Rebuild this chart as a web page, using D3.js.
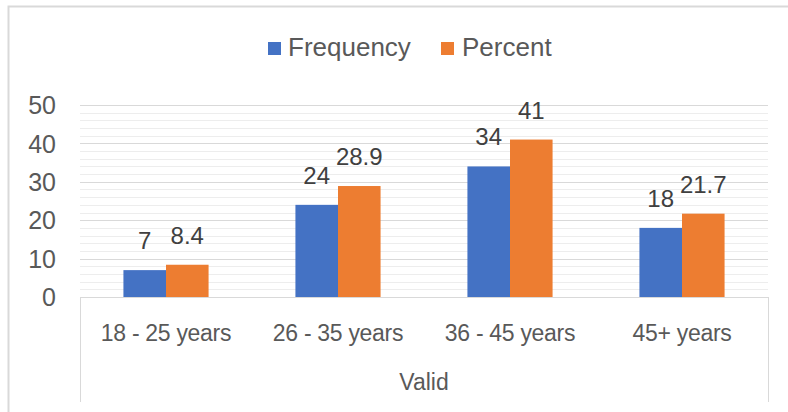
<!DOCTYPE html>
<html>
<head>
<meta charset="utf-8">
<script src="https://cdn.jsdelivr.net/npm/d3@7"></script>
<style>
  html, body { margin: 0; padding: 0; background: #ffffff; }
  svg { display: block; }
</style>
</head>
<body>
<svg id="chart" width="788" height="412"></svg>
<script>
// Age groups and their counts / shares
const categories = ["18 - 25 years", "26 - 35 years", "36 - 45 years", "45+ years"];
const seriesNames = ["Frequency", "Percent"];
const frequency = [7, 24, 34, 18];
const percent = [8.4, 28.9, 41, 21.7];
const yTicks = [0, 10, 20, 30, 40, 50];
const groupLabel = "Valid";

const colors = { Frequency: "#4472C4", Percent: "#ED7D31" };
const seriesValues = { Frequency: frequency, Percent: percent };

const svg = d3.select("#chart");
const W = 788, H = 412;
const plot = { left: 80, right: 768, top: 105, bottom: 297 };
const font = "'Liberation Sans', Arial, sans-serif";

// chart frame
svg.append("rect")
  .attr("x", 8.5).attr("y", 6.5)
  .attr("width", W + 20).attr("height", H + 20)
  .attr("fill", "#ffffff")
  .attr("stroke", "#d9d9d9").attr("stroke-width", 2);

const x0 = d3.scaleBand().domain(categories).range([plot.left, plot.right]).padding(0);
const x1 = d3.scaleBand().domain(seriesNames).range([0, x0.bandwidth()])
  .paddingInner(0).paddingOuter(1.02);
const y = d3.scaleLinear().domain([0, 50]).range([plot.bottom, plot.top]);

// minor gridlines every 2 units
const minor = d3.range(2, 50, 2).filter(v => v % 10 !== 0);
svg.append("g").selectAll("line").data(minor).join("line")
  .attr("x1", plot.left).attr("x2", plot.right)
  .attr("y1", d => Math.round(y(d)) + 0.5).attr("y2", d => Math.round(y(d)) + 0.5)
  .attr("stroke", "#ededed").attr("stroke-width", 1);

// major gridlines
svg.append("g").selectAll("line").data(yTicks.filter(v => v > 0)).join("line")
  .attr("x1", plot.left).attr("x2", plot.right)
  .attr("y1", d => Math.round(y(d)) + 0.5).attr("y2", d => Math.round(y(d)) + 0.5)
  .attr("stroke", "#d9d9d9").attr("stroke-width", 1);

// y axis labels
const yAxis = d3.axisLeft(y).tickValues(yTicks).tickSize(0).tickPadding(0);
const yg = svg.append("g").attr("transform", `translate(56,0)`).call(yAxis);
yg.select(".domain").remove();
yg.selectAll("text")
  .attr("font-family", font)
  .attr("font-size", 25).attr("fill", "#595959").attr("dy", "0.35em");

// bars
const groups = svg.append("g").selectAll("g").data(categories).join("g")
  .attr("transform", d => `translate(${x0(d)},0)`);

groups.selectAll("rect")
  .data((c, i) => seriesNames.map(s => ({ s, v: seriesValues[s][i] })))
  .join("rect")
  .attr("x", d => x1(d.s))
  .attr("width", x1.bandwidth())
  .attr("y", d => y(d.v))
  .attr("height", d => y(0) - y(d.v))
  .attr("fill", d => colors[d.s]);

// value labels
groups.selectAll("text")
  .data((c, i) => seriesNames.map(s => ({ s, v: seriesValues[s][i] })))
  .join("text")
  .attr("x", d => x1(d.s) + x1.bandwidth() / 2)
  .attr("y", d => y(d.v) - 21)
  .attr("text-anchor", "middle")
  .attr("font-family", font)
  .attr("font-size", 24).attr("fill", "#404040")
  .text(d => d.v);

// category axis box
const axisCol = "#d9d9d9";
svg.append("line")
  .attr("x1", plot.left).attr("x2", plot.right + 0.5)
  .attr("y1", plot.bottom + 0.5).attr("y2", plot.bottom + 0.5)
  .attr("stroke", axisCol);
[plot.left, plot.right].forEach(xx => {
  svg.append("line")
    .attr("x1", xx + 0.5).attr("x2", xx + 0.5)
    .attr("y1", plot.bottom).attr("y2", 402)
    .attr("stroke", axisCol);
});

// category labels
const xAxis = d3.axisBottom(x0).tickSize(0).tickPadding(0);
const xg = svg.append("g").attr("transform", `translate(0,${plot.bottom})`).call(xAxis);
xg.select(".domain").remove();
xg.selectAll("text")
  .attr("font-family", font)
  .attr("font-size", 23).attr("letter-spacing", "-0.3px")
  .attr("fill", "#595959")
  .attr("dy", null).attr("y", 44);

// group label
svg.append("text")
  .attr("x", (plot.left + plot.right) / 2).attr("y", 390)
  .attr("text-anchor", "middle")
  .attr("font-family", font)
  .attr("font-size", 23)
  .attr("fill", "#595959")
  .text(groupLabel);

// legend
const legend = svg.append("g");
const legendItems = [
  { s: "Frequency", sx: 268, tx: 288 },
  { s: "Percent", sx: 441, tx: 462 }
];
legendItems.forEach(it => {
  legend.append("rect")
    .attr("x", it.sx).attr("y", 42).attr("width", 13).attr("height", 13)
    .attr("fill", colors[it.s]);
  legend.append("text")
    .attr("x", it.tx).attr("y", 56)
    .attr("font-family", font)
    .attr("font-size", 26).attr("fill", "#595959")
    .text(it.s);
});
</script>
</body>
</html>
